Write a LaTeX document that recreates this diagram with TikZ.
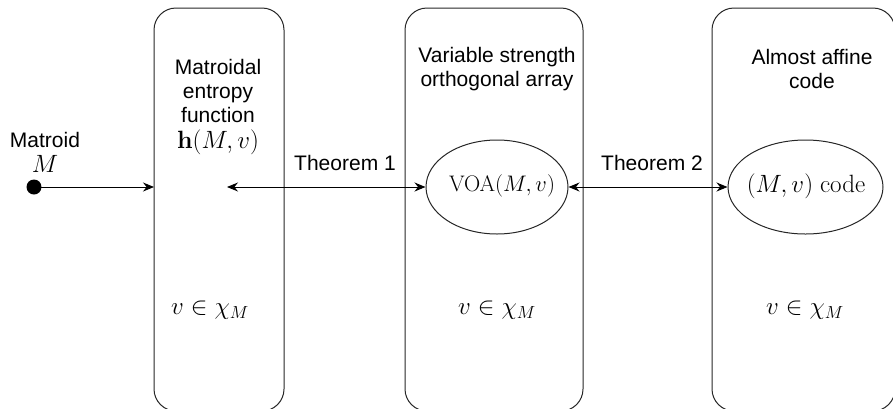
\documentclass[tikz,border=0pt]{standalone}
\usepackage{fix-cm}
\usepackage[no-math]{fontspec}
\setmainfont{Liberation Sans}
\usetikzlibrary{shapes.geometric,arrows.meta}
\begin{document}
\begin{tikzpicture}[x=1pt,y=-1pt,
  panel/.style={draw=black!85,line width=1pt,rounded corners=22pt},
  lbl/.style={inner sep=0pt,align=center,font=\fontsize{21}{24}\selectfont},
  mth/.style={inner sep=0pt,align=center,font=\fontsize{25}{29}\selectfont},
  oval/.style={ellipse,draw=black!85,line width=1pt,inner sep=0pt},
  conn/.style={line width=1pt,-{Stealth[length=11pt,width=9pt]}},
  dconn/.style={line width=1pt,{Stealth[length=11pt,width=9pt]}-{Stealth[length=11pt,width=9pt]}}]
\useasboundingbox (0,0) rectangle (893,408);
\clip (0,0) rectangle (893,408);
% panels
\draw[panel] (154,8) rectangle (284,411);
\draw[panel] (405,8) rectangle (583,411);
\draw[panel] (712,8) rectangle (895,411);
\coordinate (p1w) at (154,187);
% matroid input
\node[lbl] (mt) at (45,140) {Matroid};
\node[mth] (mm) at (45,164) {$M$};
\fill (34,187) circle (7.5);
\coordinate (dotc) at (34,187);
\draw[conn] (dotc) -- (p1w);
% panel 1
\node[lbl] (t1) at (218,91) {Matroidal\\entropy\\function};
\node[mth] (h) at (218,142) {$\mathbf{h}(M,v)$};
\coordinate (hend) at (227,187);
\node[mth] (c1) at (210,310) {$v\in\chi_M$};
% panel 2
\node[lbl] (t2) at (497,69) {Variable strength\\orthogonal array};
\node[oval,minimum width=142pt,minimum height=94pt] (voa) at (497,187) {};
\node[mth,font=\fontsize{22.5}{27}\selectfont] (voat) at (502,186) {$\mathrm{VOA}(M,v)$};
\node[mth] (c2) at (497,310) {$v\in\chi_M$};
% panel 3
\node[lbl] (t3) at (812,69) {Almost affine\\code};
\node[oval,minimum width=155pt,minimum height=94pt] (code) at (805.5,187) {};
\node[mth] (codet) at (806,186) {$(M,v)\ \mathrm{code}$};
\node[mth] (c3) at (805,310) {$v\in\chi_M$};
% theorems
\draw[dconn] (hend) -- (voa.west);
\node[lbl] (th1) at (345,163) {Theorem 1};
\draw[dconn] (voa.east) -- (code.west);
\node[lbl] (th2) at (652,163) {Theorem 2};
\end{tikzpicture}
\end{document}
